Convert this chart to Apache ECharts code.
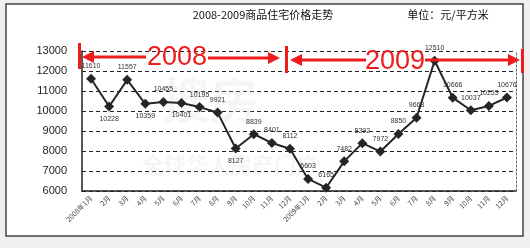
<!DOCTYPE html>
<html><head><meta charset="utf-8">
<script src="https://cdn.jsdelivr.net/npm/echarts@6/dist/echarts.min.js"></script>
<style>html,body{margin:0;padding:0;background:#f0efee;}#c{width:530px;height:248px;}</style>
</head><body><div id="c"></div>
<script>
const categories = ["2008年1月","2月","3月","4月","5月","6月","7月","8月","9月","10月","11月","12月",
  "2009年1月","2月","3月","4月","5月","6月","7月","8月","9月","10月","11月","12月"];
const prices = [11610,10228,11557,10359,10455,10401,10195,9921,8127,8839,8401,8112,
  6603,6165,7482,8392,7972,8850,9663,12510,10666,10037,10253,10676];
const labelBelow = [1,3,5,8];
const yTicks = [6000,7000,8000,9000,10000,11000,12000,13000];
const titleText = "2008-2009商品住宅价格走势";
const unitText = "单位：元/平方米";
const yearLabels = ["2008","2009"];

const chart = echarts.init(document.getElementById('c'));
const red = '#ee1c1c';
const data = prices.map((v,i)=>({value:v,label:{position: labelBelow.includes(i)?'bottom':'top'}}));
chart.setOption({
  animation:false,
  backgroundColor:'transparent',
  graphic:[
    {type:'rect',shape:{x:6,y:4,width:517,height:232},style:{fill:'#fff',stroke:'#444',lineWidth:1.5},z:-10},
    {type:'text',x:263,y:15,style:{text:titleText,fill:'#111',font:'11px "Noto Sans CJK SC"',textAlign:'center',textVerticalAlign:'middle'}},
    {type:'text',x:448,y:15,style:{text:unitText,fill:'#111',font:'11px "Noto Sans CJK SC"',textAlign:'center',textVerticalAlign:'middle'}},
    // 2008 annotation
    {type:'rect',shape:{x:78,y:43,width:3,height:26},style:{fill:red},z:20},
    {type:'line',shape:{x1:90,y1:57,x2:146,y2:57},style:{stroke:red,lineWidth:3},z:20},
    {type:'polygon',shape:{points:[[82,57],[94,51],[94,63]]},style:{fill:red},z:20},
    {type:'text',x:177,y:58,style:{text:yearLabels[0],fill:red,font:'27px "Liberation Sans"',textAlign:'center',textVerticalAlign:'middle'},z:20},
    {type:'line',shape:{x1:208,y1:58,x2:270,y2:58},style:{stroke:red,lineWidth:3},z:20},
    {type:'polygon',shape:{points:[[280,58],[268,52],[268,64]]},style:{fill:red},z:20},
    // 2009 annotation
    {type:'rect',shape:{x:285,y:46,width:3,height:27},style:{fill:red},z:20},
    {type:'polygon',shape:{points:[[290,60],[302,54],[302,66]]},style:{fill:red},z:20},
    {type:'line',shape:{x1:300,y1:60,x2:366,y2:60},style:{stroke:red,lineWidth:3},z:20},
    {type:'text',x:395,y:62,style:{text:yearLabels[1],fill:red,font:'27px "Liberation Sans"',textAlign:'center',textVerticalAlign:'middle'},z:20},
    {type:'line',shape:{x1:425,y1:60,x2:510,y2:60},style:{stroke:red,lineWidth:3},z:20},
    {type:'polygon',shape:{points:[[520,60],[508,54],[508,66]]},style:{fill:red},z:20},
    {type:'rect',shape:{x:521,y:49,width:3,height:24},style:{fill:red},z:20},
    // faint watermark
    {type:'text',x:210,y:100,style:{text:'搜房',fill:'rgba(215,215,215,0.25)',font:'bold 48px "Noto Sans CJK SC"',textAlign:'center',textVerticalAlign:'middle'},z:1},
    {type:'text',x:230,y:165,style:{text:'全球华人房产门户',fill:'rgba(215,215,215,0.25)',font:'bold 22px "Noto Sans CJK SC"',textAlign:'center',textVerticalAlign:'middle'},z:1}
  ],
  grid:{left:82,right:14,top:51,bottom:57},
  xAxis:{type:'category',data:categories,boundaryGap:true,
    axisLine:{lineStyle:{color:'#222',width:1.5}},
    axisTick:{inside:true,length:3,lineStyle:{color:'#222'}},
    axisLabel:{rotate:45,fontSize:7,color:'#444',margin:6,interval:0,fontFamily:'"Noto Sans CJK SC"'},
    splitLine:{show:false}},
  yAxis:[{type:'value',min:6000,max:13000,interval:1000,
    axisLine:{show:true,lineStyle:{color:'#222',width:1.5}},
    axisTick:{show:false},
    axisLabel:{fontSize:11,color:'#222',margin:15,fontFamily:'"Liberation Sans"',formatter:v=>String(v)},
    splitLine:{lineStyle:{color:'#222',type:[4,3],width:1}}},
    {type:'value',position:'right',min:6000,max:13000,interval:1000,
    axisLine:{show:true,lineStyle:{color:'#666',type:[2,2],width:1}},
    axisTick:{show:false},axisLabel:{show:false},splitLine:{show:false}}],
  series:[{type:'line',data:data,symbol:'diamond',symbolSize:10,
    lineStyle:{color:'#262626',width:2},itemStyle:{color:'#262626'},
    label:{show:true,fontSize:7,color:'#333',fontFamily:'"Liberation Sans"',distance:4},z:10}]
});
</script></body></html>
